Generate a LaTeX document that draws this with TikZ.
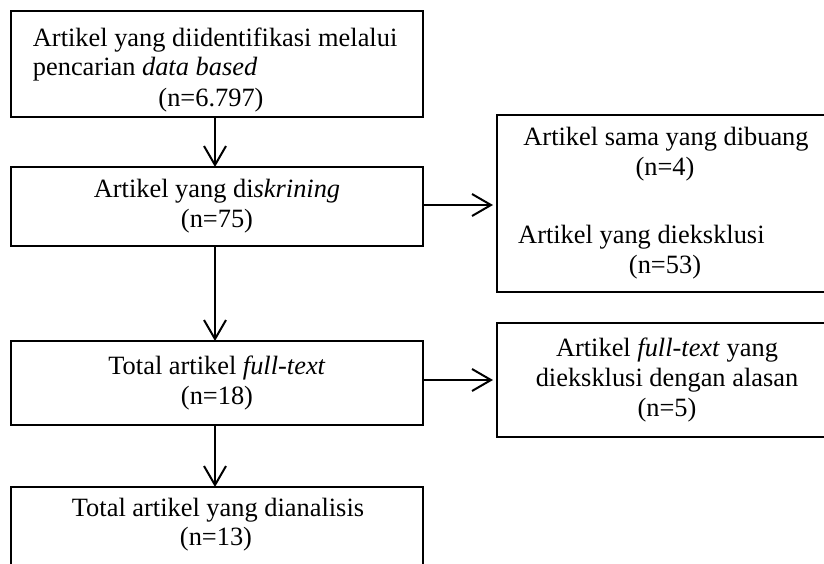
\documentclass[tikz,border=0pt]{standalone}
\usepackage{fontspec}
\setmainfont{Liberation Serif}
\usetikzlibrary{arrows.meta}
\begin{document}
\begin{tikzpicture}[x=1pt,y=-1pt,
  box/.style={draw=black,line width=1.2pt,rectangle,inner sep=0pt,outer sep=0pt,align=center,font=\fontsize{26.4}{30}\selectfont},
  txt/.style={inner sep=0pt,font=\fontsize{26.4}{30}\selectfont},
  arr/.style={line width=2pt,-{Straight Barb[length=19pt,width=22pt,line width=2pt]}}]
\useasboundingbox (0,0) rectangle (824,563);
\clip (0,0) rectangle (824,563);
% boxes
\node[box,minimum width=412pt,minimum height=106pt] (b1) at (217,64) {};
\node[box,minimum width=412pt,minimum height=79pt] (b2) at (217,206.5) {Artikel yang di\textit{skrining}\\(n=75)};
\node[box,minimum width=340pt,minimum height=177pt] (rb1) at (667,203.5) {};
\node[box,minimum width=412pt,minimum height=84pt] (b3) at (217,383) {Total artikel \textit{full-text}\\(n=18)};
\node[box,minimum width=340pt,minimum height=114pt] (rb2) at (667,380) {Artikel \textit{full-text} yang\\dieksklusi dengan alasan\\(n=5)};
\node[box,minimum width=412pt,minimum height=113pt] (b4) at (217,543.5) {};
% texts
\node[txt,anchor=base west] (t1a) at (32.7,46) {Artikel yang diidentifikasi melalui};
\node[txt,anchor=base west] (t1b) at (32.7,75) {pencarian \textit{data based}};
\node[txt,anchor=base] (t1c) at (211,106) {(n=6.797)};
\node[txt,anchor=base] (r1a) at (666,145) {Artikel sama yang dibuang};
\node[txt,anchor=base] (r1b) at (665,175) {(n=4)};
\node[txt,anchor=base west] (r1c) at (518,243) {Artikel yang dieksklusi};
\node[txt,anchor=base] (r1d) at (665,273) {(n=53)};
\node[txt,anchor=base] (t4a) at (218,516) {Total artikel yang dianalisis};
\node[txt,anchor=base] (t4b) at (216,545) {(n=13)};
% arrow end points
\coordinate (s2) at ([yshift=1.5pt]b2.east);
\coordinate (e2) at ([xshift=-4pt]rb1.west |- s2);
\coordinate (s3) at ([yshift=3pt]b3.east);
\coordinate (e3) at ([xshift=-4pt]rb2.west |- s3);
% arrows
\draw[arr] ([xshift=-2pt]b1.south) -- ([xshift=-2pt]b2.north);
\draw[arr] ([xshift=-2pt]b2.south) -- ([xshift=-2pt]b3.north);
\draw[arr] ([xshift=-2pt]b3.south) -- ([xshift=-2pt]b4.north);
\draw[arr] (s2) -- (e2);
\draw[arr] (s3) -- (e3);
\end{tikzpicture}
\end{document}
